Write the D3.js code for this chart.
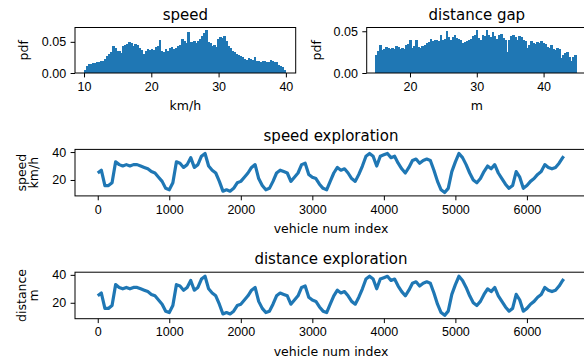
<!DOCTYPE html>
<html>
<head>
<meta charset="utf-8">
<script src="https://cdn.jsdelivr.net/npm/d3@7"></script>
<style>
  body { margin: 0; background: #fff; }
  svg { font-family: "DejaVu Sans", sans-serif; }
  .axis text { font-size: 12.5px; fill: #000; }
  .axis line { stroke: #000; stroke-width: 1; }
  .axis path { display: none; }
  .title { font-size: 15px; fill: #000; }
  .label { font-size: 12.5px; fill: #000; }
  .spine { fill: none; stroke: #000; stroke-width: 1; }
</style>
</head>
<body>
<div id="chart"></div>
<script>
// speed histogram (km/h), 100 bins
const speedRange = [10, 40]
const speedDensity = [
  0.005, 0.012, 0.014, 0.015, 0.016, 0.016, 0.017, 0.017, 0.019, 0.020,
  0.023, 0.027, 0.030, 0.033, 0.044, 0.040, 0.036, 0.035, 0.032, 0.043,
  0.045, 0.046, 0.050, 0.048, 0.043, 0.047, 0.045, 0.040, 0.037, 0.031,
  0.035, 0.039, 0.037, 0.039, 0.037, 0.042, 0.044, 0.053, 0.036, 0.034,
  0.038, 0.036, 0.040, 0.042, 0.038, 0.040, 0.043, 0.045, 0.054, 0.052,
  0.048, 0.066, 0.050, 0.049, 0.051, 0.048, 0.052, 0.055, 0.060, 0.064,
  0.069, 0.050, 0.048, 0.044, 0.045, 0.042, 0.055, 0.058, 0.056, 0.059,
  0.052, 0.044, 0.040, 0.036, 0.033, 0.030, 0.029, 0.028, 0.026, 0.022,
  0.021, 0.024, 0.022, 0.021, 0.025, 0.020, 0.019, 0.018, 0.019, 0.020,
  0.018, 0.017, 0.021, 0.019, 0.017, 0.018, 0.013, 0.011, 0.010, 0.005
]

// distance gap histogram (m), 100 bins
const gapRange = [14.8, 44.9]
const gapDensity = [
  0.022, 0.026, 0.033, 0.027, 0.029, 0.031, 0.030, 0.029, 0.030, 0.029,
  0.032, 0.031, 0.029, 0.030, 0.029, 0.034, 0.035, 0.039, 0.030, 0.032,
  0.040, 0.031, 0.030, 0.032, 0.033, 0.036, 0.037, 0.041, 0.038, 0.039,
  0.040, 0.038, 0.046, 0.040, 0.041, 0.050, 0.043, 0.040, 0.043, 0.045,
  0.042, 0.041, 0.040, 0.036, 0.037, 0.038, 0.039, 0.041, 0.044, 0.045,
  0.051, 0.042, 0.040, 0.046, 0.044, 0.052, 0.045, 0.043, 0.049, 0.044,
  0.041, 0.046, 0.047, 0.042, 0.040, 0.025, 0.039, 0.044, 0.046, 0.043,
  0.040, 0.044, 0.043, 0.040, 0.038, 0.030, 0.033, 0.038, 0.036, 0.035,
  0.037, 0.036, 0.038, 0.036, 0.035, 0.031, 0.030, 0.033, 0.029, 0.028,
  0.030, 0.029, 0.018, 0.022, 0.024, 0.025, 0.019, 0.014, 0.019, 0.022
]

// exploration series, sampled every 50 vehicles
const vehicleIndex = [
  0, 50, 100, 150, 200, 250, 300, 350, 400, 450, 500, 550, 600, 650, 700, 750,
  800, 850, 900, 950, 1000, 1050, 1100, 1150, 1200, 1250, 1300, 1350, 1400, 1450,
  1500, 1550, 1600, 1650, 1700, 1750, 1800, 1850, 1900, 1950, 2000, 2050, 2100,
  2150, 2200, 2250, 2300, 2350, 2400, 2450, 2500, 2550, 2600, 2650, 2700, 2750,
  2800, 2850, 2900, 2950, 3000, 3050, 3100, 3150, 3200, 3250, 3300, 3350, 3400,
  3450, 3500, 3550, 3600, 3650, 3700, 3750, 3800, 3850, 3900, 3950, 4000, 4050,
  4100, 4150, 4200, 4250, 4300, 4350, 4400, 4450, 4500, 4550, 4600, 4650, 4700,
  4750, 4800, 4850, 4900, 4950, 5000, 5050, 5100, 5150, 5200, 5250, 5300, 5350,
  5400, 5450, 5500, 5550, 5600, 5650, 5700, 5750, 5800, 5850, 5900, 5950, 6000,
  6050, 6100, 6150, 6200, 6250, 6300, 6350, 6400, 6450, 6500, 6515
]
const speedSeries = [
  25, 27, 16, 16, 18, 33, 31, 30, 31, 30, 31, 31, 30, 29, 28, 26,
  25, 22, 19, 14, 13, 18, 33, 32, 29, 31, 36, 29, 31, 37,
  39, 30, 27, 25, 19, 12, 13, 12, 14, 18, 19, 22, 25,
  29, 31, 21, 16, 13, 14, 19, 25, 27, 26, 25, 19, 22,
  25, 31, 32, 24, 22, 21, 17, 14, 13, 19, 25, 29, 27,
  28, 25, 21, 19, 24, 30, 37, 39, 37, 30, 37, 38, 39,
  36, 37, 32, 28, 25, 29, 34, 35, 32, 34, 35, 34, 27,
  19, 13, 11, 14, 26, 33, 39, 36, 31, 25, 20, 18, 21,
  26, 30, 28, 31, 25, 21, 17, 14, 16, 26, 22, 14, 16,
  19, 21, 24, 26, 31, 29, 28, 29, 32, 36, 37
]
// the distance exploration panel shows the same trace
const distanceSeries = speedSeries.slice()

const histTicks = [0, 0.05]
const lineYTicks = [20, 40]
const indexTicks = [0, 1000, 2000, 3000, 4000, 5000, 6000]

const W = 584, H = 362
const blue = "#1f77b4"

const svg = d3.select("#chart").append("svg")
  .attr("width", W)
  .attr("height", H)

function frame(box, x, y, xTicks, yTicks, xFmt, yFmt) {
  const g = svg.append("g")
  g.append("g")
    .attr("class", "axis")
    .attr("transform", "translate(0," + box.bottom + ")")
    .call(d3.axisBottom(x).tickValues(xTicks).tickSize(4.4).tickPadding(4.4).tickSizeOuter(0).tickFormat(xFmt))
  g.append("g")
    .attr("class", "axis")
    .attr("transform", "translate(" + box.left + ",0)")
    .call(d3.axisLeft(y).tickValues(yTicks).tickSize(4.4).tickPadding(4.4).tickSizeOuter(0).tickFormat(yFmt))
  g.append("rect")
    .attr("class", "spine")
    .attr("x", box.left)
    .attr("y", box.top)
    .attr("width", box.right - box.left)
    .attr("height", box.bottom - box.top)
  return g
}

function title(box, text) {
  svg.append("text")
    .attr("class", "title")
    .attr("x", (box.left + box.right) / 2)
    .attr("y", box.top - 8)
    .attr("text-anchor", "middle")
    .text(text)
}

function xLabel(box, text) {
  svg.append("text")
    .attr("class", "label")
    .attr("x", (box.left + box.right) / 2)
    .attr("y", box.bottom + 37)
    .attr("text-anchor", "middle")
    .text(text)
}

function yLabel(box, lines, xs) {
  const cy = (box.top + box.bottom) / 2
  lines.forEach((t, i) => {
    svg.append("text")
      .attr("class", "label")
      .attr("transform", "translate(" + xs[i] + "," + cy + ") rotate(-90)")
      .attr("text-anchor", "middle")
      .text(t)
  })
}

function drawHist(box, range, density, xDomain, yMax, xTicks, xName, t, ylabX) {
  const x = d3.scaleLinear().domain(xDomain).range([box.left, box.right])
  const y = d3.scaleLinear().domain([0, yMax]).range([box.bottom, box.top])
  const bw = (range[1] - range[0]) / density.length

  svg.append("g")
    .attr("shape-rendering", "crispEdges")
    .selectAll("rect")
    .data(density)
    .join("rect")
    .attr("x", (d, i) => x(range[0] + i * bw))
    .attr("width", (d, i) => x(range[0] + (i + 1) * bw) - x(range[0] + i * bw) + 0.6)
    .attr("y", d => y(d))
    .attr("height", d => box.bottom - y(d))
    .attr("fill", blue)

  frame(box, x, y, xTicks, histTicks, d3.format("d"), d3.format(".2f"))
  title(box, t)
  xLabel(box, xName)
  yLabel(box, ["pdf"], [ylabX])
}

function drawLine(box, values, t, ylab, ylabXs) {
  const x = d3.scaleLinear().domain([-318, 6840]).range([box.left, box.right])
  const y = d3.scaleLinear().domain([8.6, 41.9]).range([box.bottom, box.top])

  const line = d3.line()
    .x((d, i) => x(vehicleIndex[i]))
    .y(d => y(d))

  svg.append("path")
    .datum(values)
    .attr("fill", "none")
    .attr("stroke", blue)
    .attr("stroke-width", 3.2)
    .attr("stroke-linejoin", "round")
    .attr("d", line)

  frame(box, x, y, indexTicks, lineYTicks, d3.format("d"), d3.format("d"))
  title(box, t)
  xLabel(box, "vehicle num index")
  yLabel(box, ylab, ylabXs)
}

drawHist({ left: 75, right: 295.7, top: 27.5, bottom: 73 }, speedRange, speedDensity,
  [8.66, 41.46], 0.073, [10, 20, 30, 40], "km/h", "speed", 28)
drawHist({ left: 366.7, right: 587, top: 27.5, bottom: 73 }, gapRange, gapDensity,
  [13.52, 46.5], 0.0545, [20, 30, 40], "m", "distance gap", 320.5)
drawLine({ left: 75, right: 587, top: 149.4, bottom: 195.9 }, speedSeries,
  "speed exploration", ["speed", "km/h"], [26, 37.6])
drawLine({ left: 75, right: 587, top: 272.2, bottom: 318.7 }, distanceSeries,
  "distance exploration", ["distance", "m"], [25.5, 37.5])
</script>
</body>
</html>
